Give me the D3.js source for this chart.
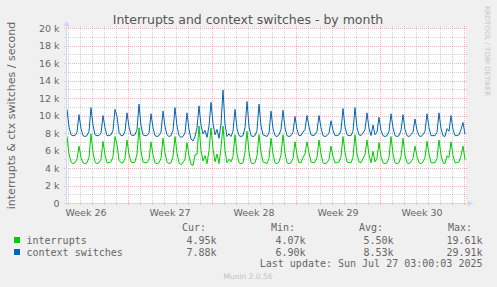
<!DOCTYPE html>
<html>
<head>
<meta charset="utf-8">
<script src="https://cdn.jsdelivr.net/npm/d3@7"></script>
<style>
  body { margin: 0; background: #f0f0f0; }
  svg { display: block; }
</style>
</head>
<body>
<svg id="chart" width="497" height="287"></svg>
<script>
// Samples, one every 4 hours starting Jun 23 22:00 (one row per day,
// each row starts at the nightly peak).
var sampleStart = Date.UTC(2025, 5, 23, 22);
var stepHours = 4;

var interrupts = [
  7600, 5600, 4700, 4500, 4600, 5000,
  6500, 5200, 4600, 4500, 4600, 5200,
  7900, 5800, 4700, 4500, 4600, 5000,
  7050, 5500, 4600, 4600, 4700, 5300,
  7600, 6700, 4900, 4600, 4600, 5100,
  7200, 5600, 4700, 4600, 4700, 5600,
  8600, 5900, 4700, 4600, 4600, 5000,
  7000, 5500, 4600, 4500, 4600, 5100,
  7400, 5700, 4700, 4500, 4600, 5300,
  7600, 5700, 4600, 4400, 4600, 5000,
  6900, 5400, 4400, 4300, 5500, 5600,
  8800, 6000, 4800, 5400, 4500, 6000,
  8600, 6200, 4700, 5600, 4500, 6300,
  8800, 6000, 4600, 5000, 4700, 5300,
  7800, 5600, 4600, 4500, 4600, 5800,
  8200, 5800, 4600, 4500, 4600, 5400,
  7800, 5800, 4700, 4600, 4500, 5100,
  7400, 5600, 4600, 4500, 4700, 5500,
  7800, 5700, 4600, 4500, 4600, 5100,
  7000, 5500, 4600, 4600, 5200, 5600,
  7000, 5700, 4700, 4600, 4700, 5200,
  7200, 5600, 4600, 4500, 4600, 5000,
  6500, 5300, 4600, 4600, 4700, 5300,
  7600, 5800, 4700, 4600, 4600, 5200,
  7800, 5600, 4700, 4600, 5100, 5500,
  7200, 5500, 4600, 5900, 4700, 5100,
  6900, 5300, 4600, 4500, 4600, 5200,
  7600, 5600, 4600, 4500, 4600, 5300,
  7400, 5400, 4600, 4500, 4700, 5100,
  6500, 5300, 4600, 4500, 4700, 5200,
  7050, 5600, 4600, 4600, 4600, 5100,
  7200, 5500, 4600, 4500, 5400, 5200,
  7000, 5400, 4600, 4600, 4700, 5400,
  6500, 4950
];

var ctxSwitches = [
  10700, 8700, 7800, 7700, 7700, 8100,
  10100, 8500, 7700, 7600, 7700, 8200,
  10900, 8900, 7800, 7700, 7700, 8000,
  10000, 8600, 7700, 7700, 7800, 8300,
  10700, 9900, 8100, 7700, 7700, 8200,
  10300, 8700, 7800, 7700, 7800, 8400,
  11300, 8800, 7800, 7700, 7700, 8000,
  10200, 8600, 7700, 7600, 7700, 8100,
  10500, 8700, 7800, 7600, 7700, 8300,
  10900, 8800, 7700, 7500, 7600, 8000,
  10300, 8400, 7300, 7100, 7600, 8600,
  11100, 8900, 7900, 8300, 7500, 8800,
  11500, 9100, 7800, 8400, 7400, 9000,
  12900, 9000, 7600, 7900, 7600, 8200,
  10700, 8500, 7700, 7600, 7700, 8600,
  11600, 8700, 7700, 7600, 7700, 8300,
  11300, 8800, 7800, 7700, 7600, 8000,
  10500, 8500, 7700, 7600, 7800, 8400,
  10600, 8600, 7700, 7600, 7700, 8100,
  9900, 8400, 7700, 7700, 8100, 8400,
  10000, 8700, 7800, 7700, 7800, 8200,
  10000, 8600, 7700, 7600, 7700, 8000,
  9400, 8300, 7700, 7700, 7800, 8300,
  10800, 8700, 7800, 7700, 7700, 8200,
  10900, 8600, 7800, 7700, 8000, 8400,
  10300, 8500, 7700, 8900, 7800, 8100,
  9800, 8300, 7700, 7600, 7700, 8200,
  10200, 8600, 7700, 7600, 7700, 8300,
  10100, 8400, 7700, 7600, 7800, 8100,
  9600, 8300, 7700, 7600, 7800, 8200,
  10200, 8600, 7700, 7700, 7700, 8100,
  10300, 8500, 7700, 7600, 8500, 8200,
  10000, 8400, 7700, 7700, 7800, 8400,
  9200, 7880
];

var seriesNames = ['interrupts', 'context switches'];
var curValues = ['4.95k', '7.88k'];
var minValues = ['4.07k', '6.90k'];
var avgValues = ['5.50k', '8.53k'];
var maxValues = ['19.61k', '29.91k'];
var weekLabels = ['Week 26', 'Week 27', 'Week 28', 'Week 29', 'Week 30'];
var yTicks = [0, 2000, 4000, 6000, 8000, 10000, 12000, 14000, 16000, 18000, 20000];

// Layout constants.
var kLeft = 66, kRight = 466, kTop = 28, kBottom = 203;
var kHour = 3600 * 1000;
var kEnd = Date.UTC(2025, 6, 27, 4);
var kFont = 'DejaVu Sans, sans-serif';
var kMono = 'DejaVu Sans Mono, monospace';
var kColors = ['#00cc00', '#0066b3'];
var kGrid = 'rgba(143,143,143,0.4)';
var kMajorGrid = 'rgba(230,90,90,0.45)';

var svg = d3.select('#chart');

var x = d3.scaleUtc()
  .domain([new Date(kEnd - 800 * kHour), new Date(kEnd)])
  .range([kLeft, kRight]);
var y = d3.scaleLinear().domain([0, 20000]).range([kBottom, kTop]);

function Px(v) { return Math.round(v) + 0.5; }

// Canvas.
svg.append('rect')
  .attr('x', kLeft).attr('y', kTop)
  .attr('width', kRight - kLeft).attr('height', kBottom - kTop)
  .attr('fill', '#ffffff');

var grid = svg.append('g').attr('stroke-dasharray', '1,1')
  .attr('shape-rendering', 'crispEdges');

// Horizontal grid: minor every 1k, major at labelled ticks.
d3.range(1000, 20001, 2000).forEach(function(v) {
  grid.append('line')
    .attr('x1', kLeft - 2).attr('x2', kRight + 2)
    .attr('y1', Px(y(v))).attr('y2', Px(y(v)))
    .attr('stroke', kGrid);
});
yTicks.slice(1).forEach(function(v) {
  grid.append('line')
    .attr('x1', kLeft - 2).attr('x2', kRight + 2)
    .attr('y1', Px(y(v))).attr('y2', Px(y(v)))
    .attr('stroke', kMajorGrid);
});

// Vertical grid: minor per day, major per week (Sunday).
var sundays = d3.utcSunday.range(x.domain()[0], x.domain()[1]);
d3.utcDay.range(x.domain()[0], x.domain()[1]).forEach(function(d) {
  if (d.getUTCDay() == 0)
    return;
  grid.append('line')
    .attr('x1', Px(x(d))).attr('x2', Px(x(d)))
    .attr('y1', kTop - 2).attr('y2', kBottom + 2)
    .attr('stroke', kGrid);
});
sundays.forEach(function(d) {
  grid.append('line')
    .attr('x1', Px(x(d))).attr('x2', Px(x(d)))
    .attr('y1', kTop - 2).attr('y2', kBottom + 2)
    .attr('stroke', kMajorGrid);
});

// Y tick labels.
svg.append('g').selectAll('text').data(yTicks).enter().append('text')
  .attr('x', 59.5).attr('y', function(v) { return y(v) + 3.5; })
  .attr('text-anchor', 'end')
  .attr('font-family', kFont).attr('font-size', 9.5).attr('fill', '#666')
  .text(function(v) { return v == 0 ? '0' : (v / 1000) + ' k'; });

// Week labels, centred on each week.
var weekMids = d3.utcSunday.range(new Date(+x.domain()[0] - 7 * 24 * kHour), x.domain()[1])
  .map(function(d) { return new Date(+d + 3.5 * 24 * kHour); })
  .filter(function(d) { return x(d) > kLeft && x(d) < kRight; });
svg.append('g').selectAll('text').data(weekMids).enter().append('text')
  .attr('x', function(d) { return x(d); }).attr('y', 216)
  .attr('text-anchor', 'middle')
  .attr('font-family', kFont).attr('font-size', 9.5).attr('fill', '#666')
  .text(function(d, i) { return weekLabels[i]; });

// Series lines.
[interrupts, ctxSwitches].forEach(function(values, s) {
  var line = d3.line()
    .x(function(v, i) { return x(new Date(sampleStart + i * stepHours * kHour)); })
    .y(function(v) { return y(v); });
  svg.append('path')
    .datum(values)
    .attr('d', line)
    .attr('fill', 'none')
    .attr('stroke', kColors[s])
    .attr('stroke-width', 1);
});

// Axes with arrows.
var kAxis = '#cfd6f8';
svg.append('line')
  .attr('x1', kLeft - 2).attr('x2', kRight + 4)
  .attr('y1', kBottom + 0.5).attr('y2', kBottom + 0.5)
  .attr('stroke', kAxis);
svg.append('line')
  .attr('x1', kLeft + 0.5).attr('x2', kLeft + 0.5)
  .attr('y1', kBottom + 2).attr('y2', kTop - 4)
  .attr('stroke', kAxis);
svg.append('path')
  .attr('d', 'M' + (kRight + 2) + ',' + (kBottom - 2.5) + 'L' + (kRight + 7) + ',' +
        (kBottom + 0.5) + 'L' + (kRight + 2) + ',' + (kBottom + 3.5) + 'Z')
  .attr('fill', kAxis);
svg.append('path')
  .attr('d', 'M' + (kLeft - 2.5) + ',' + (kTop - 2) + 'L' + (kLeft + 0.5) + ',' +
        (kTop - 7) + 'L' + (kLeft + 3.5) + ',' + (kTop - 2) + 'Z')
  .attr('fill', kAxis);

// Title and axis label.
svg.append('text')
  .attr('x', 248).attr('y', 24)
  .attr('text-anchor', 'middle')
  .attr('font-family', kFont).attr('font-size', 12.5).attr('fill', '#555')
  .text('Interrupts and context switches - by month');
svg.append('text')
  .attr('transform', 'translate(14.5,' + ((kTop + kBottom) / 2) + ') rotate(-90)')
  .attr('text-anchor', 'middle')
  .attr('font-family', kFont).attr('font-size', 11).attr('fill', '#666')
  .text('interrupts & ctx switches / second');
svg.append('text')
  .attr('transform', 'translate(485,6) rotate(90)')
  .attr('font-family', kFont).attr('font-size', 7).attr('fill', '#c4c4c4')
  .text('RRDTOOL / TOBI OETIKER');

// Legend.
var legend = svg.append('g')
  .attr('font-family', kMono).attr('font-size', 10).attr('fill', '#666');
var kColumns = [216.5, 305.5, 393.5, 482.5];
['Cur:', 'Min:', 'Avg:', 'Max:'].forEach(function(h, c) {
  legend.append('text')
    .attr('x', kColumns[c] - 34.5).attr('y', 231)
    .text(h);
});
seriesNames.forEach(function(name, s) {
  var rowY = 243.5 + s * 12;
  legend.append('rect')
    .attr('x', 14).attr('y', rowY - 6.5)
    .attr('width', 6).attr('height', 6)
    .attr('fill', kColors[s]);
  legend.append('text').attr('x', 26.5).attr('y', rowY).text(name);
  [curValues, minValues, avgValues, maxValues].forEach(function(col, c) {
    legend.append('text')
      .attr('x', kColumns[c]).attr('y', rowY)
      .attr('text-anchor', 'end')
      .text(col[s]);
  });
});
legend.append('text')
  .attr('x', 482.5).attr('y', 267)
  .attr('text-anchor', 'end')
  .text('Last update: Sun Jul 27 03:00:03 2025');

svg.append('text')
  .attr('x', 248).attr('y', 279)
  .attr('text-anchor', 'middle')
  .attr('font-family', kFont).attr('font-size', 7.5).attr('fill', '#c0c0c0')
  .text('Munin 2.0.56');
</script>
</body>
</html>
